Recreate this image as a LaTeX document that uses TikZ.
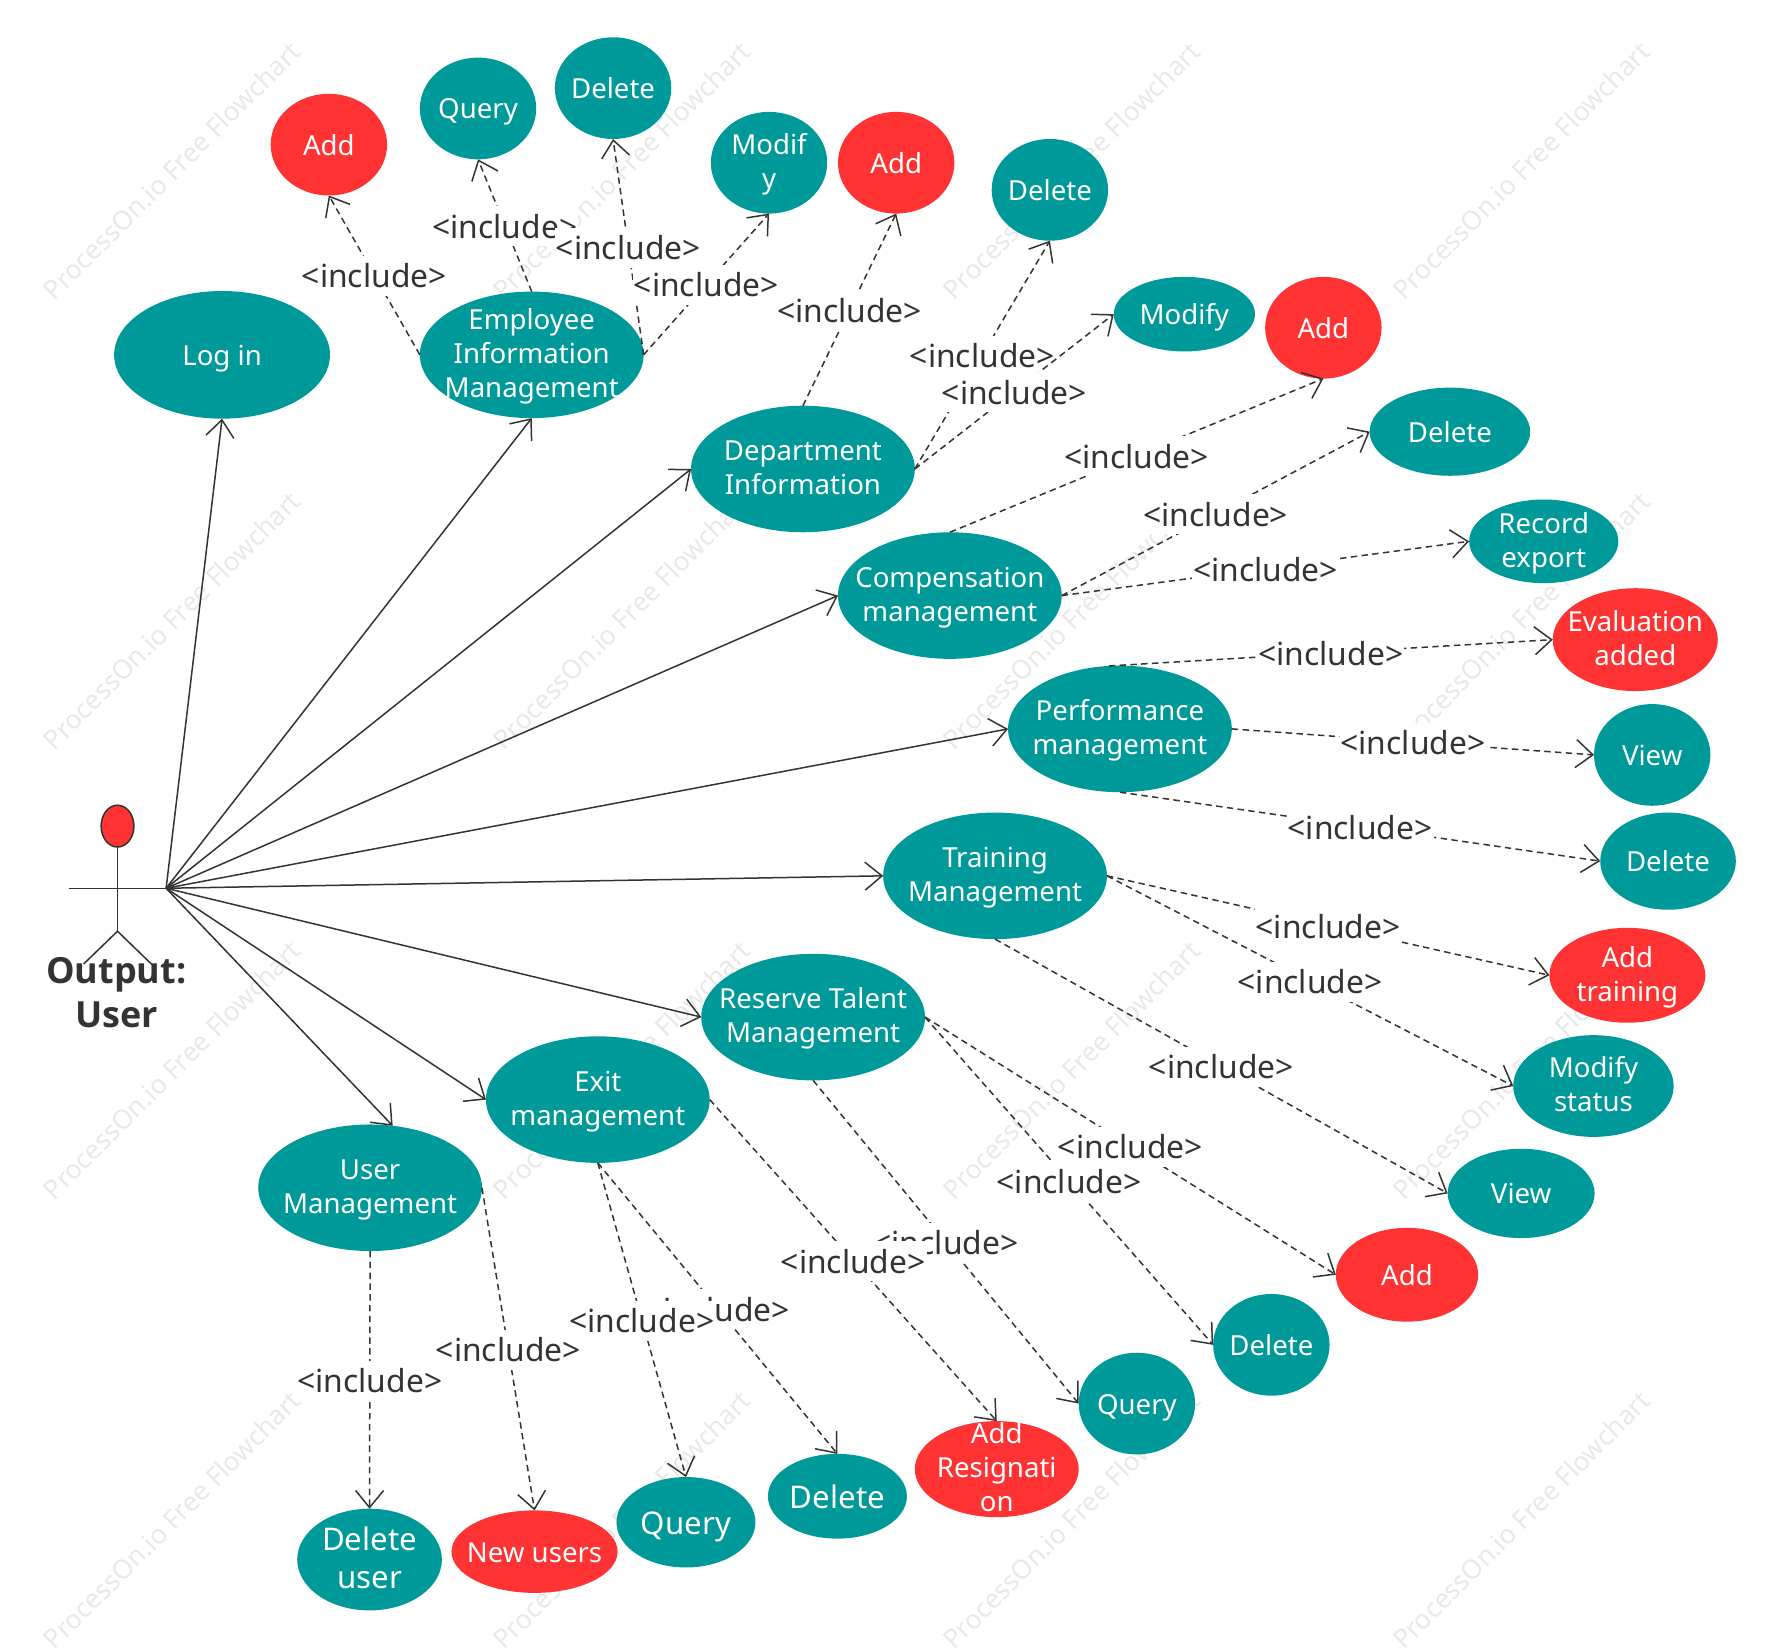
\documentclass[tikz,border=0pt]{standalone}
\usepackage{fontspec}
\usepackage{xcolor}
\setmainfont{Noto Sans}
\newfontfamily\actorfont{Open Sans}
\usetikzlibrary{shapes.geometric,arrows.meta}
\definecolor{teal1}{HTML}{009999}
\definecolor{red1}{HTML}{FF3333}
\definecolor{ink}{HTML}{333333}
\definecolor{mark1}{HTML}{E8E8E8}
\newcommand{\up}{\rule{0pt}{0.88em}}
\tikzset{
	oval/.style 2 args={
		ellipse, fill=teal1, text=white, align=center, inner sep=-10pt, outer sep=0pt,
		minimum width=#1*0.565pt, minimum height=#2*0.565pt,
		font=\fontsize{13.8}{17}\selectfont,
		execute at begin node={\rule{0pt}{1em}},
		execute at end node={\rule[-0.24em]{0pt}{0.24em}}
	},
	big/.style={oval={198}{112}},
	small/.style={oval={103}{90}},
	hot/.style={fill=red1},
	large/.style={font=\fontsize{15.6}{18.6}\selectfont},
	uses/.style={-{Straight Barb[length=8.5pt,width=14pt]}, line width=0.75pt, draw=ink},
	dep/.style={uses, dash pattern=on 3.2pt off 2.2pt},
	inc/.style={
		fill=white, text=ink, inner xsep=0.5pt, inner ysep=0pt, minimum height=20pt,
		yshift=-0.4pt, font=\fontsize{15.9}{18}\selectfont
	}
}
\begin{document}
\begin{tikzpicture}[x=0.565pt, y=-0.565pt]
		\useasboundingbox (0,0) rectangle (1568,1458.3);

		% watermark
		\foreach \x [count=\i] in {152,550,948,1346} {
				\foreach \y [count=\j] in {151,549,947,1345} {
						\node[rotate=45, text=mark1, font=\fontsize{13.2}{16}\selectfont] (W\i\j) at (\x,\y) {ProcessOn.io Free Flowchart};
					}
			}

		% actor
		\coordinate (hub) at (147,786);
		\coordinate (armL) at (61,786);
		\coordinate (hip) at (104,824);
		\coordinate (legL) at (74,853);
		\coordinate (legR) at (136,855);
		\node[
			ellipse, fill=red1, draw=ink, line width=0.75pt, inner sep=0pt, outer sep=0pt,
			minimum width=16.4pt, minimum height=20.9pt
		] (head) at (104,731) {};
		\draw[line width=0.75pt, draw=ink] (head.south) -- (hip);
		\draw[line width=0.75pt, draw=ink] (armL) -- (hub);
		\draw[line width=0.75pt, draw=ink] (legL) -- (hip) -- (legR);
		\node[
			text=ink, align=center, inner sep=0pt,
			font=\actorfont\bfseries\fontsize{18}{22}\selectfont
		] (user) at (103,878) {Output:\\User};

		% use cases
		\node[oval={191}{113}] (L) at (196.5,314) {Log in};
		\node[big] (E) at (470.5,314) {\up Employee\\Information\\Management};
		\node[big] (D) at (710.5,415) {\up Department\\Information};
		\node[big] (C) at (840.5,527) {\up Compensation\\management};
		\node[big] (P) at (991,645) {\up Performance\\management};
		\node[big] (T) at (880.5,775) {\up Training\\Management};
		\node[big] (R) at (719.5,900) {\up Reserve Talent\\Management};
		\node[big] (X) at (529,973) {\up Exit\\management};
		\node[big] (U) at (327.5,1051) {\up User\\Management};

		% employee
		\node[small, hot] (E1) at (291,128) {Add};
		\node[small] (E2) at (423,96) {Query};
		\node[small] (E3) at (542.5,78) {Delete};
		\node[small] (E4) at (680.5,144) {\up Modif\\y};
		% department
		\node[small, hot] (D1) at (793,144) {Add};
		\node[small] (D2) at (929,168) {Delete};
		\node[oval={125}{66}] (D3) at (1048,278) {Modify};
		% compensation
		\node[small, hot] (C1) at (1171,290) {Add};
		\node[oval={142}{78}] (C2) at (1283,382) {Delete};
		\node[oval={132}{74}] (C3) at (1366,479) {\up Record\\export};
		% performance
		\node[oval={146}{91}, hot] (P1) at (1447,566) {\up Evaluation\\added};
		\node[small] (P2) at (1462,668) {View};
		\node[oval={120}{86}] (P3) at (1476,762) {Delete};
		% training
		\node[oval={138}{84}, hot] (T1) at (1440,863) {\up Add\\training};
		\node[oval={142}{90}] (T2) at (1410,961) {\up Modify\\status};
		\node[oval={130}{79}] (T3) at (1346,1056) {View};
		% reserve
		\node[oval={126}{83}, hot] (R1) at (1245,1128) {Add};
		\node[small] (R2) at (1125,1190) {Delete};
		\node[small] (R3) at (1006,1242) {Query};
		% exit
		\node[oval={145}{85}, hot] (X1) at (882,1300) {\up Add\\Resignati\\on};
		\node[oval={123}{75}, large] (X2) at (741,1324) {Delete};
		\node[oval={123}{80}, large] (X3) at (607,1347) {Query};
		% user
		\node[oval={147}{73}, hot] (U1) at (473,1373) {New users};
		\node[oval={128}{90}, large] (U2) at (327,1380) {\up Delete\\user};

		\foreach \t in {L.south,E.south,D.west,C.west,P.west,T.west,R.west,X.west,U.70} {
				\draw[uses] (hub) -- (\t);
			}

		\foreach \a/\b [count=\i] in {
				E.west/E1.south, E.north/E2.south, E.east/E3.south, E.east/E4.south,
				D.north/D1.south, D.east/D2.south, D.east/D3.west,
				C.north/C1.south, C.east/C2.west, C.east/C3.west,
				P.100/P1.west, P.east/P2.west, P.south/P3.west,
				T.east/T1.west, T.east/T2.west, T.south/T3.west,
				R.east/R1.west, R.east/R2.west, R.south/R3.west,
				X.east/X1.north, X.south/X2.north, X.south/X3.north,
				U.east/U1.north, U.south/U2.north} {
				\draw[dep] (\a) -- (\b) node[inc, pos=0.5] (I\i) {<include>};
			}
	\end{tikzpicture}
\end{document}
